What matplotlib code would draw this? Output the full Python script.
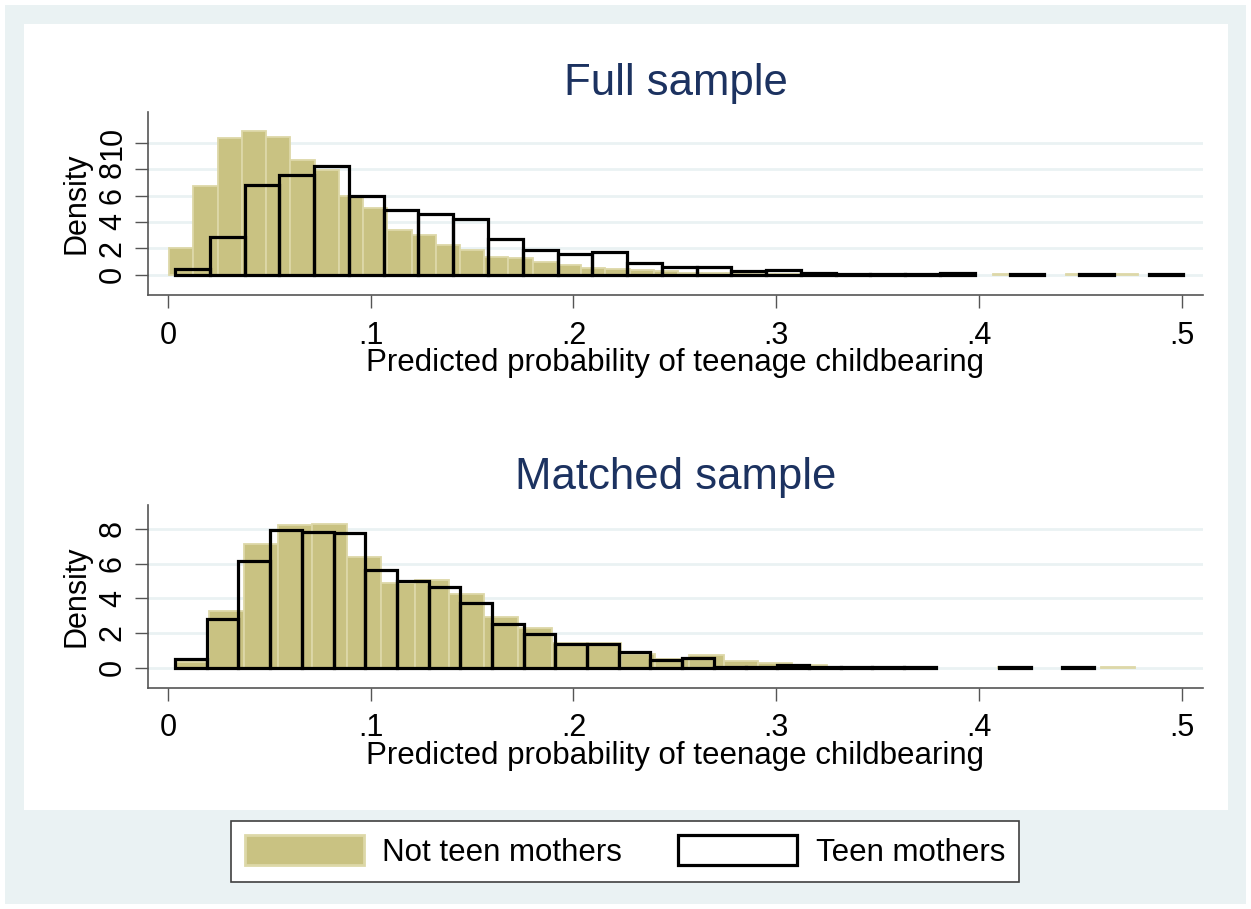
import numpy as np
import matplotlib
matplotlib.use("Agg")
import matplotlib.pyplot as plt
from matplotlib.patches import Rectangle, Patch

plt.rcParams['font.family'] = ['Liberation Sans', 'DejaVu Sans']

# ---------------- data (densities) ----------------
full_not_teen_range = (0.0006, 0.4786)
full_not_teen = [2.05, 6.75, 10.38, 10.9, 10.43, 8.73, 7.97, 5.94, 5.05, 3.35,
                 3.02, 2.21, 1.88, 1.32, 1.22, 0.93, 0.74, 0.49, 0.41, 0.36,
                 0.28, 0.15, 0.10, 0.08, 0.07, 0.06, 0.05, 0.04, 0.04, 0.03,
                 0.03, 0.02, 0.02, 0.0, 0.04, 0.0, 0.0, 0.04, 0.0, 0.04]

full_teen_range = (0.0035, 0.5008)
full_teen = [0.45, 2.85, 6.8, 7.6, 8.25, 5.95, 4.88, 4.6, 4.2, 2.72,
             1.85, 1.55, 1.70, 0.88, 0.55, 0.55, 0.28, 0.35, 0.15, 0.07,
             0.07, 0.07, 0.13, 0.0, 0.07, 0.0, 0.07, 0.0, 0.07]

matched_not_teen_range = (0.0035, 0.4771)
matched_not_teen = [0.35, 3.27, 7.12, 8.23, 8.29, 6.40, 4.87, 5.06, 4.23, 2.90,
                    2.27, 1.40, 1.40, 0.81, 0.50, 0.71, 0.38, 0.25, 0.15, 0.07,
                    0.07, 0.07, 0.0, 0.0, 0.07, 0.0, 0.0, 0.07]

matched_teen_range = (0.0035, 0.4568)
matched_teen = [0.48, 2.82, 6.15, 7.92, 7.82, 7.75, 5.62, 4.98, 4.63, 3.75,
                2.5, 1.94, 1.38, 1.38, 0.89, 0.46, 0.56, 0.07, 0.07, 0.16,
                0.07, 0.07, 0.07, 0.07, 0.0, 0.0, 0.07, 0.0, 0.07]

x_ticks = [0, 0.1, 0.2, 0.3, 0.4, 0.5]
x_tick_labels = ['0', '.1', '.2', '.3', '.4', '.5']
full_y_ticks = [0, 2, 4, 6, 8, 10]
matched_y_ticks = [0, 2, 4, 6, 8]
titles = ['Full sample', 'Matched sample']
x_label = 'Predicted probability of teenage childbearing'
y_label = 'Density'
legend_labels = ['Not teen mothers', 'Teen mothers']

# ---------------- style ----------------
W, H = 1251, 909
OLIVE = '#C9C282'
OLIVE_EDGE = '#DDD8A8'
BG = '#EAF2F3'
GRID = '#EAF2F3'
TITLE_C = '#1C3260'
AX_C = '#555555'

fig = plt.figure(figsize=(W / 100, H / 100), dpi=100)
fig.patch.set_facecolor('white')


def px_rect(x0, y0, x1, y1, **kw):
    return Rectangle((x0 / W, 1 - y1 / H), (x1 - x0) / W, (y1 - y0) / H,
                     transform=fig.transFigure, **kw)


fig.patches.append(px_rect(5, 5, 1246, 904, facecolor=BG, edgecolor='none', zorder=-10))
fig.patches.append(px_rect(24, 24, 1228, 810, facecolor='white', edgecolor='none', zorder=-9))


def make_axes(top_px, bottom_px):
    left, right = 148, 1203
    return fig.add_axes([left / W, 1 - bottom_px / H, (right - left) / W,
                         (bottom_px - top_px) / H])


def draw_hist(ax, rng, vals, **kw):
    vals = np.asarray(vals, dtype=float)
    edges = np.linspace(rng[0], rng[1], len(vals) + 1)
    mask = vals > 0
    ax.bar(edges[:-1][mask], vals[mask], width=np.diff(edges)[mask],
           align='edge', **kw)


panels = [
    dict(top=112, bottom=295, ylim=(-1.56, 12.37), yticks=full_y_ticks,
         olive=(full_not_teen_range, full_not_teen),
         teen=(full_teen_range, full_teen), title=titles[0], title_y=84),
    dict(top=505, bottom=687.7, ylim=(-1.15, 9.38), yticks=matched_y_ticks,
         olive=(matched_not_teen_range, matched_not_teen),
         teen=(matched_teen_range, matched_teen), title=titles[1], title_y=478),
]

for p in panels:
    ax = make_axes(p['top'], p['bottom'])
    ax.set_facecolor('white')
    ax.set_axisbelow(True)
    draw_hist(ax, *p['olive'], color=OLIVE, edgecolor=OLIVE_EDGE,
              linewidth=1.3, zorder=2)
    draw_hist(ax, *p['teen'], facecolor='none', edgecolor='black',
              linewidth=2.3, zorder=3)
    ax.set_xlim(-0.00987, 0.5105)
    ax.set_ylim(*p['ylim'])
    ax.set_xticks(x_ticks)
    ax.set_xticklabels(x_tick_labels)
    ax.set_yticks(p['yticks'])
    ax.set_yticklabels([str(t) for t in p['yticks']])
    ax.grid(axis='y', color=GRID, linewidth=2.0)
    ax.grid(axis='x', visible=False)
    for s in ['top', 'right']:
        ax.spines[s].set_visible(False)
    for s in ['left', 'bottom']:
        ax.spines[s].set_color(AX_C)
        ax.spines[s].set_linewidth(1.2)
    ax.tick_params(axis='both', direction='out', length=9.5, width=1.0,
                   color=AX_C, labelsize=22)
    ax.tick_params(axis='x', pad=9)
    ax.tick_params(axis='y', pad=5)
    for lab in ax.get_yticklabels():
        lab.set_rotation(90)
        lab.set_va('center')
        lab.set_ha('right')
    ax.set_xlabel(x_label, fontsize=22.5)
    ax.set_ylabel(y_label, fontsize=22)
    hpx = p['bottom'] - p['top']
    ax.xaxis.set_label_coords(0.5, -68 / hpx)
    ax.xaxis.label.set_va('center')
    ax.yaxis.set_label_coords((76 - 148) / 1055, 0.5)
    ax.yaxis.label.set_va('center')
    ax.yaxis.label.set_ha('center')
    ax.text(0.5, (p['bottom'] - p['title_y']) / hpx, p['title'],
            transform=ax.transAxes, ha='center', va='center',
            fontsize=31.5, color=TITLE_C)

handles = [Patch(facecolor=OLIVE, edgecolor=OLIVE_EDGE, linewidth=2.0),
           Patch(facecolor='white', edgecolor='black', linewidth=2.3)]
leg = fig.legend(handles, legend_labels, ncol=2, loc='center',
                 bbox_to_anchor=(625 / W, 1 - 851.4 / H), fontsize=22.5,
                 frameon=True, fancybox=False, edgecolor='#404040',
                 framealpha=1, handlelength=3.8, handleheight=1.1,
                 handletextpad=0.6, columnspacing=1.8, borderpad=0.45)
leg.get_frame().set_linewidth(1.2)

fig.savefig('out.png', dpi=100, facecolor=fig.get_facecolor())
